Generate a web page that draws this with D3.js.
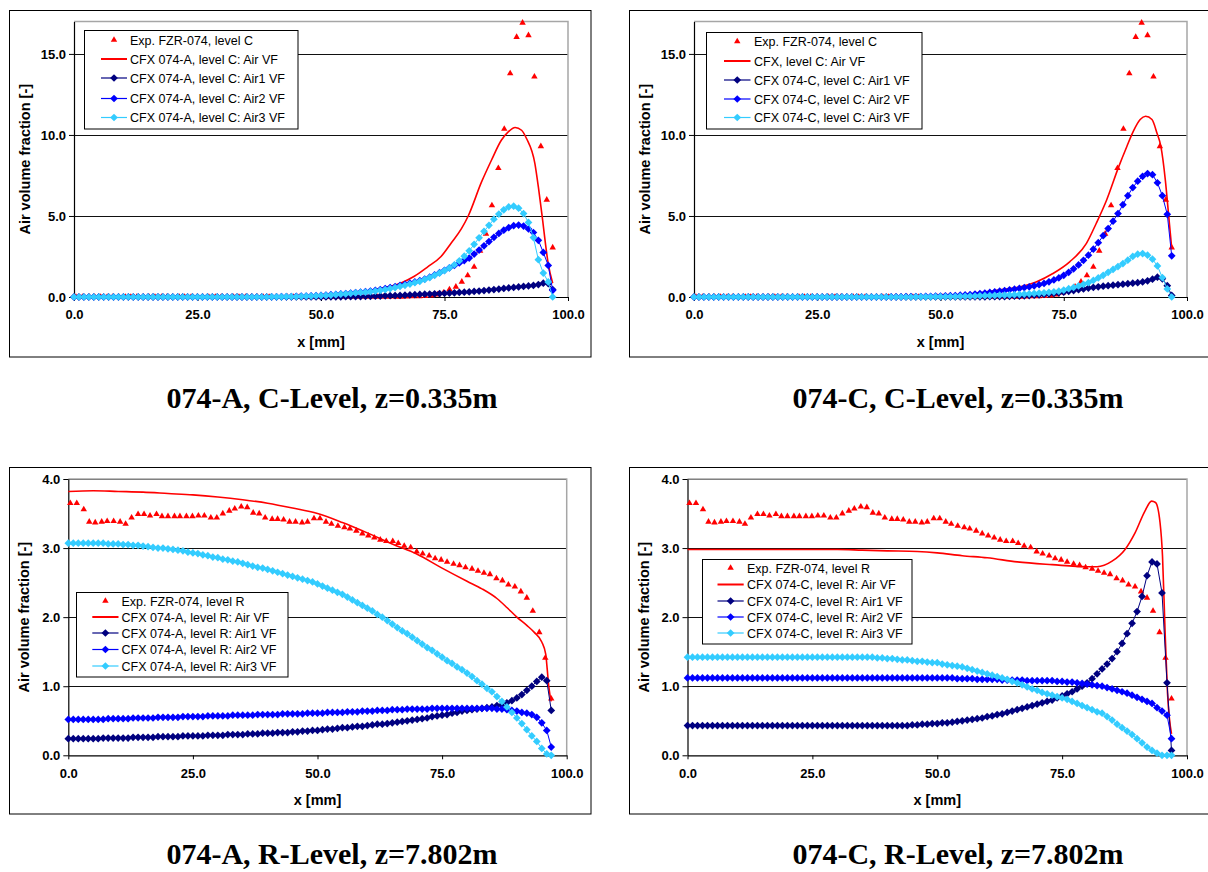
<!DOCTYPE html>
<html>
<head>
<meta charset="utf-8">
<script src="https://cdn.jsdelivr.net/npm/d3@7"></script>
<style>
  html, body { margin: 0; padding: 0; background: #ffffff; }
  svg { display: block; }
</style>
</head>
<body>
<svg id="fig" width="1208" height="872"></svg>
<script>
// ---------------------------------------------------------------------------
// Data: air volume fraction profiles across the pipe, x in mm
// ---------------------------------------------------------------------------

// Measurement positions (FZR-074 wire-mesh sensor)
const expX = [
  0.4, 1.7, 3.1, 4.2, 5.4, 6.7, 7.8, 9.1, 10.4, 11.5,
  12.7, 14.0, 15.2, 16.4, 17.7, 18.8, 20.0, 21.3, 22.4, 23.7,
  24.9, 26.1, 27.3, 28.6, 29.8, 31.0, 32.3, 33.4, 34.7, 35.9,
  37.1, 38.3, 39.5, 40.9, 42.0, 43.2, 44.4, 45.6, 46.9, 48.0,
  49.3, 50.5, 51.7, 52.8, 54.1, 55.4, 56.5, 57.8, 59.0, 60.2,
  61.4, 62.6, 63.8, 65.1, 66.2, 67.4, 68.7, 69.9, 71.1, 72.4,
  73.6, 74.8, 76.0, 77.3, 78.5, 79.7, 81.0, 82.2, 83.4, 84.6,
  85.9, 87.1, 88.3, 89.6, 90.8, 92.0, 93.2, 94.5, 95.7, 96.9
];

// Exp. FZR-074, level C
const expLevelC = [
  0, 0, 0, 0, 0, 0, 0, 0, 0, 0,
  0, 0, 0, 0, 0, 0, 0, 0, 0, 0,
  0, 0, 0, 0, 0, 0, 0, 0, 0, 0,
  0, 0, 0, 0, 0, 0, 0, 0, 0, 0,
  0, 0, 0, 0, 0, 0, 0, 0, 0, 0,
  0, 0, 0, 0, 0, 0.02, 0.03, 0.04, 0.06, 0.09,
  0.15, 0.27, 0.47, 0.63, 0.94, 1.33, 1.86, 2.85, 3.90, 5.65,
  7.95, 10.37, 13.80, 16.04, 16.92, 16.15, 13.60, 9.30, 6.00, 3.05
];

// Exp. FZR-074, level R
const expLevelR = [
  3.65, 3.65, 3.56, 3.38, 3.37, 3.38, 3.39, 3.39, 3.38, 3.35,
  3.44, 3.49, 3.49, 3.47, 3.49, 3.46, 3.46, 3.46, 3.46, 3.46,
  3.46, 3.47, 3.47, 3.44, 3.44, 3.50, 3.54, 3.57, 3.60, 3.59,
  3.51, 3.50, 3.44, 3.42, 3.42, 3.41, 3.38, 3.38, 3.37, 3.38,
  3.43, 3.43, 3.38, 3.35, 3.32, 3.30, 3.28, 3.25, 3.21, 3.18,
  3.15, 3.12, 3.10, 3.10, 3.07, 3.03, 3.01, 2.95, 2.92, 2.89,
  2.85, 2.83, 2.80, 2.77, 2.75, 2.72, 2.70, 2.67, 2.64, 2.62,
  2.56, 2.53, 2.47, 2.44, 2.37, 2.28, 2.09, 1.78, 1.41, 0.82
];

// CFX mesh positions used for the Air1/Air2/Air3 profiles
const cfxX = [
  0, 1, 2, 3, 4, 5, 6, 7, 8, 9,
  10, 11, 12, 13, 14, 15, 16, 17, 18, 19,
  20, 21, 22, 23, 24, 25, 26, 27, 28, 29,
  30, 31, 32, 33, 34, 35, 36, 37, 38, 39,
  40, 41, 42, 43, 44, 45, 46, 47, 48, 49,
  50, 51, 52, 53, 54, 55, 56, 57, 58, 59,
  60, 61, 62, 63, 64, 65, 66, 67, 68, 69,
  70, 71, 72, 73, 74, 75, 76, 77, 78, 79,
  80, 81, 82, 83, 84, 85, 86, 87, 88, 89,
  90, 91, 92, 93, 94, 95, 96, 96.9
];

// --- 074-A, level C ---
const airVfAC_x = [0, 20, 40, 46, 52.7, 59.5, 62.9, 66.2, 68.9, 71.6, 74.3, 76.4, 78.4, 79.8, 82.5, 84.5, 86.5, 87.9, 89.3, 90.6, 91.6, 93.3, 94.0, 94.7, 96.0, 96.9];
const airVfAC   = [0, 0, 0.01, 0.04, 0.15, 0.37, 0.58, 0.87, 1.28, 1.86, 2.50, 3.35, 4.20, 5.00, 7.10, 8.44, 9.67, 10.19, 10.46, 10.29, 9.78, 8.23, 6.79, 5.14, 2.05, 0.85];
const air1AC = [
  0, 0, 0, 0, 0, 0, 0, 0, 0, 0,
  0, 0, 0, 0, 0, 0, 0, 0, 0, 0,
  0, 0, 0, 0, 0, 0, 0, 0, 0, 0,
  0, 0, 0, 0, 0, 0, 0, 0, 0, 0,
  0, 0, 0, 0, 0, 0, 0, 0, 0, 0,
  0, 0, 0.01, 0.01, 0.01, 0.02, 0.02, 0.03, 0.03, 0.04,
  0.04, 0.05, 0.06, 0.07, 0.08, 0.09, 0.10, 0.11, 0.13, 0.14,
  0.16, 0.17, 0.18, 0.20, 0.21, 0.23, 0.24, 0.26, 0.28, 0.30,
  0.31, 0.34, 0.37, 0.40, 0.43, 0.46, 0.49, 0.53, 0.56, 0.59,
  0.62, 0.65, 0.68, 0.71, 0.77, 0.85, 0.83, 0.46
];
const air2AC = [
  0, 0, 0, 0, 0, 0, 0, 0, 0, 0,
  0, 0, 0, 0, 0, 0, 0, 0, 0, 0,
  0, 0, 0, 0, 0, 0, 0, 0, 0, 0,
  0, 0, 0, 0, 0, 0, 0, 0, 0, 0,
  0.01, 0.01, 0.02, 0.02, 0.03, 0.04, 0.05, 0.06, 0.07, 0.08,
  0.10, 0.12, 0.14, 0.16, 0.19, 0.21, 0.24, 0.27, 0.30, 0.33,
  0.37, 0.41, 0.46, 0.52, 0.58, 0.64, 0.71, 0.78, 0.85, 0.93,
  1.01, 1.11, 1.22, 1.36, 1.50, 1.65, 1.80, 1.95, 2.10, 2.25,
  2.40, 2.65, 2.90, 3.16, 3.42, 3.68, 3.92, 4.12, 4.28, 4.40,
  4.44, 4.38, 4.20, 3.98, 3.50, 2.75, 1.95, 0.41
];
const air3AC = [
  0, 0, 0, 0, 0, 0, 0, 0, 0, 0,
  0, 0, 0, 0, 0, 0, 0, 0, 0, 0,
  0, 0, 0, 0, 0, 0, 0, 0, 0, 0,
  0, 0, 0, 0, 0, 0, 0, 0, 0, 0,
  0.01, 0.01, 0.01, 0.02, 0.02, 0.03, 0.04, 0.05, 0.06, 0.07,
  0.09, 0.10, 0.12, 0.14, 0.17, 0.19, 0.22, 0.25, 0.28, 0.30,
  0.33, 0.37, 0.41, 0.46, 0.52, 0.58, 0.65, 0.72, 0.80, 0.88,
  0.97, 1.08, 1.20, 1.34, 1.48, 1.63, 1.79, 1.99, 2.23, 2.52,
  2.85, 3.25, 3.65, 4.05, 4.42, 4.80, 5.12, 5.38, 5.56, 5.60,
  5.48, 5.15, 4.60, 3.67, 2.30, 1.48, 0.93, 0.00
];

// --- 074-C, level C ---
const airVfCC_x = [0, 20, 40, 50, 55, 59.2, 62.5, 66, 69.4, 72.8, 76.2, 79.6, 81.6, 83.7, 86.1, 87.8, 89.1, 90.5, 91.6, 92.9, 93.9, 94.7, 95.6, 96.3, 96.9];
const airVfCC   = [0, 0, 0.01, 0.05, 0.15, 0.31, 0.46, 0.62, 0.93, 1.45, 2.17, 3.31, 4.55, 5.99, 8.00, 9.29, 10.22, 10.95, 11.15, 10.95, 10.12, 9.29, 7.23, 4.96, 3.00];
const air1CC = [
  0, 0, 0, 0, 0, 0, 0, 0, 0, 0,
  0, 0, 0, 0, 0, 0, 0, 0, 0, 0,
  0, 0, 0, 0, 0, 0, 0, 0, 0, 0,
  0, 0, 0, 0, 0, 0, 0, 0, 0, 0,
  0, 0, 0, 0, 0, 0, 0, 0, 0, 0,
  0, 0, 0, 0, 0, 0, 0, 0.01, 0.01, 0.01,
  0.02, 0.02, 0.03, 0.03, 0.04, 0.05, 0.06, 0.07, 0.09, 0.11,
  0.13, 0.16, 0.19, 0.22, 0.26, 0.30, 0.35, 0.40, 0.45, 0.50,
  0.55, 0.59, 0.63, 0.67, 0.70, 0.73, 0.76, 0.79, 0.82, 0.85,
  0.88, 0.93, 1.00, 1.10, 1.22, 1.12, 0.70, 0.10
];
const air2CC = [
  0, 0, 0, 0, 0, 0, 0, 0, 0, 0,
  0, 0, 0, 0, 0, 0, 0, 0, 0, 0,
  0, 0, 0, 0, 0, 0, 0, 0, 0, 0,
  0, 0, 0, 0, 0, 0, 0, 0, 0, 0,
  0.01, 0.01, 0.01, 0.02, 0.02, 0.03, 0.03, 0.04, 0.04, 0.05,
  0.06, 0.07, 0.08, 0.09, 0.11, 0.13, 0.15, 0.18, 0.21, 0.24,
  0.28, 0.32, 0.36, 0.40, 0.44, 0.48, 0.53, 0.58, 0.63, 0.69,
  0.76, 0.84, 0.94, 1.05, 1.18, 1.34, 1.52, 1.74, 1.98, 2.26,
  2.58, 2.95, 3.35, 3.78, 4.22, 4.68, 5.15, 5.70, 6.25, 6.75,
  7.15, 7.45, 7.62, 7.55, 7.05, 6.25, 5.10, 2.54
];
const air3CC = [
  0, 0, 0, 0, 0, 0, 0, 0, 0, 0,
  0, 0, 0, 0, 0, 0, 0, 0, 0, 0,
  0, 0, 0, 0, 0, 0, 0, 0, 0, 0,
  0, 0, 0, 0, 0, 0, 0, 0, 0, 0,
  0, 0, 0, 0, 0, 0.01, 0.01, 0.01, 0.01, 0.02,
  0.02, 0.02, 0.03, 0.03, 0.04, 0.04, 0.05, 0.06, 0.07, 0.08,
  0.09, 0.10, 0.11, 0.12, 0.13, 0.14, 0.16, 0.18, 0.20, 0.22,
  0.24, 0.26, 0.29, 0.32, 0.36, 0.43, 0.51, 0.59, 0.68, 0.78,
  0.88, 1.02, 1.18, 1.34, 1.52, 1.70, 1.88, 2.06, 2.27, 2.50,
  2.64, 2.68, 2.58, 2.33, 1.92, 1.20, 0.50, 0.00
];

// --- 074-A, level R ---
const airVfAR_x = [0, 5, 10, 15, 20, 25, 30, 35, 40, 45, 50, 55, 60, 65, 70, 75, 80, 83, 86, 88, 90, 92, 93.5, 95, 95.8, 96.1, 96.4, 96.9];
const airVfAR   = [3.82, 3.83, 3.82, 3.81, 3.79, 3.77, 3.74, 3.70, 3.65, 3.58, 3.50, 3.37, 3.22, 3.06, 2.91, 2.71, 2.52, 2.41, 2.27, 2.14, 2.00, 1.88, 1.78, 1.64, 1.46, 1.24, 1.00, 0.78];
const air1AR = [
  0.24, 0.24, 0.24, 0.24, 0.24, 0.24, 0.24, 0.25, 0.25, 0.25,
  0.25, 0.25, 0.25, 0.26, 0.26, 0.26, 0.26, 0.26, 0.27, 0.27,
  0.27, 0.27, 0.27, 0.28, 0.28, 0.28, 0.28, 0.28, 0.29, 0.29,
  0.29, 0.29, 0.30, 0.30, 0.30, 0.30, 0.31, 0.31, 0.31, 0.32,
  0.32, 0.32, 0.33, 0.33, 0.33, 0.34, 0.34, 0.35, 0.35, 0.36,
  0.36, 0.37, 0.38, 0.38, 0.39, 0.40, 0.40, 0.41, 0.42, 0.42,
  0.43, 0.44, 0.45, 0.45, 0.46, 0.47, 0.48, 0.49, 0.50, 0.51,
  0.52, 0.53, 0.54, 0.56, 0.57, 0.58, 0.59, 0.61, 0.62, 0.64,
  0.65, 0.66, 0.67, 0.68, 0.69, 0.70, 0.72, 0.73, 0.76, 0.79,
  0.83, 0.88, 0.94, 1.00, 1.07, 1.13, 1.08, 0.65
];
const air2AR = [
  0.52, 0.52, 0.52, 0.52, 0.52, 0.52, 0.52, 0.52, 0.53, 0.53,
  0.53, 0.53, 0.53, 0.54, 0.54, 0.54, 0.54, 0.54, 0.55, 0.55,
  0.55, 0.55, 0.55, 0.56, 0.56, 0.56, 0.56, 0.56, 0.57, 0.57,
  0.57, 0.57, 0.57, 0.58, 0.58, 0.58, 0.58, 0.58, 0.59, 0.59,
  0.59, 0.59, 0.59, 0.60, 0.60, 0.60, 0.60, 0.60, 0.61, 0.61,
  0.61, 0.61, 0.62, 0.62, 0.62, 0.62, 0.63, 0.63, 0.63, 0.64,
  0.64, 0.64, 0.65, 0.65, 0.65, 0.66, 0.66, 0.66, 0.67, 0.67,
  0.67, 0.67, 0.67, 0.68, 0.68, 0.68, 0.68, 0.68, 0.68, 0.68,
  0.68, 0.68, 0.68, 0.68, 0.68, 0.68, 0.67, 0.67, 0.66, 0.65,
  0.64, 0.62, 0.61, 0.59, 0.55, 0.47, 0.36, 0.12
];
const air3AR = [
  3.07, 3.07, 3.07, 3.07, 3.07, 3.07, 3.07, 3.07, 3.06, 3.06,
  3.06, 3.05, 3.05, 3.04, 3.04, 3.03, 3.02, 3.01, 3.00, 3.00,
  2.99, 2.98, 2.97, 2.96, 2.94, 2.93, 2.92, 2.90, 2.89, 2.87,
  2.86, 2.84, 2.83, 2.81, 2.80, 2.78, 2.76, 2.74, 2.72, 2.71,
  2.69, 2.67, 2.65, 2.63, 2.61, 2.59, 2.57, 2.55, 2.53, 2.51,
  2.48, 2.45, 2.42, 2.39, 2.36, 2.33, 2.29, 2.25, 2.21, 2.17,
  2.13, 2.09, 2.04, 2.00, 1.95, 1.90, 1.85, 1.80, 1.76, 1.71,
  1.66, 1.61, 1.56, 1.52, 1.47, 1.42, 1.37, 1.33, 1.28, 1.24,
  1.19, 1.14, 1.08, 1.03, 0.97, 0.92, 0.85, 0.78, 0.70, 0.62,
  0.54, 0.46, 0.37, 0.28, 0.20, 0.10, 0.02, 0.00
];

// --- 074-C, level R ---
const airVfCR_x = [0, 10, 20, 30, 35, 40, 46, 50, 55, 60, 66, 73, 80, 82, 85, 87.6, 89.6, 91.6, 92.9, 93.7, 94.6, 95.1, 95.6, 96.1, 96.9];
const airVfCR   = [2.98, 2.98, 2.98, 2.98, 2.97, 2.96, 2.95, 2.93, 2.89, 2.86, 2.80, 2.76, 2.73, 2.73, 2.81, 2.98, 3.22, 3.54, 3.68, 3.66, 3.37, 2.88, 1.82, 0.90, 0.31];
const air1CR = [
  0.43, 0.43, 0.43, 0.43, 0.43, 0.43, 0.43, 0.43, 0.43, 0.43,
  0.43, 0.43, 0.43, 0.43, 0.43, 0.43, 0.43, 0.43, 0.43, 0.43,
  0.43, 0.43, 0.43, 0.43, 0.43, 0.43, 0.43, 0.43, 0.43, 0.43,
  0.43, 0.43, 0.43, 0.43, 0.43, 0.43, 0.43, 0.43, 0.43, 0.43,
  0.43, 0.43, 0.43, 0.43, 0.43, 0.44, 0.44, 0.45, 0.45, 0.46,
  0.46, 0.47, 0.47, 0.48, 0.49, 0.50, 0.51, 0.52, 0.53, 0.54,
  0.56, 0.57, 0.59, 0.60, 0.62, 0.64, 0.66, 0.68, 0.70, 0.72,
  0.74, 0.76, 0.78, 0.80, 0.83, 0.86, 0.89, 0.92, 0.96, 1.00,
  1.05, 1.11, 1.18, 1.25, 1.32, 1.40, 1.50, 1.62, 1.76, 1.91,
  2.08, 2.30, 2.60, 2.80, 2.77, 2.35, 1.05, 0.07
];
const air2CR = [
  1.12, 1.12, 1.12, 1.12, 1.12, 1.12, 1.12, 1.12, 1.12, 1.12,
  1.12, 1.12, 1.12, 1.12, 1.12, 1.12, 1.12, 1.12, 1.12, 1.12,
  1.12, 1.12, 1.12, 1.12, 1.12, 1.12, 1.12, 1.12, 1.12, 1.12,
  1.12, 1.12, 1.12, 1.12, 1.12, 1.12, 1.12, 1.12, 1.12, 1.12,
  1.12, 1.12, 1.12, 1.12, 1.12, 1.12, 1.12, 1.12, 1.12, 1.12,
  1.12, 1.12, 1.12, 1.12, 1.11, 1.11, 1.11, 1.11, 1.10, 1.10,
  1.10, 1.10, 1.10, 1.09, 1.09, 1.09, 1.09, 1.09, 1.08, 1.08,
  1.08, 1.08, 1.08, 1.08, 1.07, 1.07, 1.06, 1.06, 1.05, 1.04,
  1.03, 1.02, 1.01, 1.00, 0.98, 0.96, 0.94, 0.92, 0.90, 0.87,
  0.84, 0.81, 0.78, 0.75, 0.69, 0.64, 0.58, 0.24
];
const air3CR = [
  1.42, 1.42, 1.42, 1.42, 1.42, 1.42, 1.42, 1.42, 1.42, 1.42,
  1.42, 1.42, 1.42, 1.42, 1.42, 1.42, 1.42, 1.42, 1.42, 1.42,
  1.42, 1.42, 1.42, 1.42, 1.42, 1.42, 1.42, 1.42, 1.42, 1.42,
  1.42, 1.42, 1.42, 1.42, 1.42, 1.42, 1.42, 1.42, 1.41, 1.41,
  1.40, 1.40, 1.39, 1.38, 1.38, 1.37, 1.36, 1.36, 1.35, 1.34,
  1.34, 1.32, 1.31, 1.30, 1.29, 1.28, 1.26, 1.24, 1.22, 1.20,
  1.18, 1.16, 1.14, 1.12, 1.10, 1.07, 1.05, 1.02, 0.99, 0.96,
  0.94, 0.91, 0.89, 0.87, 0.85, 0.83, 0.81, 0.78, 0.75, 0.72,
  0.69, 0.66, 0.63, 0.61, 0.56, 0.51, 0.45, 0.40, 0.35, 0.30,
  0.24, 0.18, 0.12, 0.07, 0.03, 0.00, 0.00, 0.00
];

// Axis tick values
const xTickValues = [0, 25, 50, 75, 100];
const yTicksLevelC = [0, 5, 10, 15];
const yTicksLevelR = [0, 1, 2, 3, 4];

// Legend labels
const legendAC = ["Exp. FZR-074, level C", "CFX 074-A, level C: Air VF", "CFX 074-A, level C: Air1 VF", "CFX 074-A, level C: Air2 VF", "CFX 074-A, level C: Air3 VF"];
const legendCC = ["Exp. FZR-074, level C", "CFX, level C: Air VF", "CFX 074-C, level C: Air1 VF", "CFX 074-C, level C: Air2 VF", "CFX 074-C, level C: Air3 VF"];
const legendAR = ["Exp. FZR-074, level R", "CFX 074-A, level R: Air VF", "CFX 074-A, level R: Air1 VF", "CFX 074-A, level R: Air2 VF", "CFX 074-A, level R: Air3 VF"];
const legendCR = ["Exp. FZR-074, level R", "CFX 074-C, level R: Air VF", "CFX 074-C, level R: Air1 VF", "CFX 074-C, level R: Air2 VF", "CFX 074-C, level R: Air3 VF"];

const captions = ["074-A, C-Level, z=0.335m", "074-C, C-Level, z=0.335m", "074-A, R-Level, z=7.802m", "074-C, R-Level, z=7.802m"];

// ---------------------------------------------------------------------------
// Styling
// ---------------------------------------------------------------------------
const SANS = '"Liberation Sans", Arial, Helvetica, sans-serif';
const SERIF = '"Liberation Serif", "Times New Roman", Times, serif';
const COLORS = { exp: "#ff0000", air: "#ff0000", air1: "#000080", air2: "#0000ff", air3: "#33ccff" };

// Square diamond marker (equal width and height)
const squareDiamond = {
  draw(ctx, size) {
    const r = Math.sqrt(size / 2);
    ctx.moveTo(0, -r); ctx.lineTo(r, 0); ctx.lineTo(0, r); ctx.lineTo(-r, 0); ctx.closePath();
  }
};
const diamondPath = d3.symbol().type(squareDiamond).size(30)();
const trianglePath = d3.symbol().type(d3.symbolTriangle).size(18)();

// Panel layout
const panels = [
  {
    frame: [9.5, 10.5, 581.5, 346.5], x0: 74, x1: 568, yBot: 297, yTop: 21.5, yMax: 17, yTicks: yTicksLevelC,
    yTitleX: 25, xTitleY: 347, xTickPad: 9,
    legend: { box: [84.5, 30.5, 213.5, 98.5], rows: [40, 59, 78, 98.5, 117.5], sym: [101, 127], text: 130 },
    caption: captions[0], capX: 332, capY: 408,
    exp: expLevelC, airX: airVfAC_x, air: airVfAC, a1: air1AC, a2: air2AC, a3: air3AC, labels: legendAC
  },
  {
    frame: [629.5, 10.5, 600, 346.5], x0: 694, x1: 1187, yBot: 297, yTop: 21.5, yMax: 17, yTicks: yTicksLevelC,
    yTitleX: 644.5, xTitleY: 347, xTickPad: 9,
    legend: { box: [706.5, 32.5, 215.5, 96.5], rows: [41.5, 61, 80, 99, 117.5], sym: [724, 750.5], text: 754 },
    caption: captions[1], capX: 958, capY: 408,
    exp: expLevelC, airX: airVfCC_x, air: airVfCC, a1: air1CC, a2: air2CC, a3: air3CC, labels: legendCC
  },
  {
    frame: [9.5, 467.5, 581.5, 346.5], x0: 68.3, x1: 566.7, yBot: 755.3, yTop: 479, yMax: 4, yTicks: yTicksLevelR,
    yTitleX: 23.5, xTitleY: 805, xTickPad: 9,
    legend: { box: [76.5, 592.5, 211.5, 84.5], rows: [601, 617, 633, 649.5, 666], sym: [92.3, 118.5], text: 121.5 },
    caption: captions[2], capX: 332, capY: 864,
    exp: expLevelR, airX: airVfAR_x, air: airVfAR, a1: air1AR, a2: air2AR, a3: air3AR, labels: legendAR
  },
  {
    frame: [629.5, 467.5, 600, 346.5], x0: 687.5, x1: 1187, yBot: 755.3, yTop: 479, yMax: 4, yTicks: yTicksLevelR,
    yTitleX: 644, xTitleY: 805, xTickPad: 9,
    legend: { box: [702.5, 559.5, 209.5, 84.5], rows: [568, 584.5, 601, 617, 633], sym: [717.5, 743.7], text: 747 },
    caption: captions[3], capX: 958, capY: 864,
    exp: expLevelR, airX: airVfCR_x, air: airVfCR, a1: air1CR, a2: air2CR, a3: air3CR, labels: legendCR
  }
];

const svg = d3.select("#fig");

panels.forEach(p => {
  const g = svg.append("g");
  const x = d3.scaleLinear().domain([0, 100]).range([p.x0, p.x1]);
  const y = d3.scaleLinear().domain([0, p.yMax]).range([p.yBot, p.yTop]);

  // chart frame
  g.append("rect")
    .attr("x", p.frame[0]).attr("y", p.frame[1])
    .attr("width", p.frame[2]).attr("height", p.frame[3])
    .attr("fill", "#fff").attr("stroke", "#000").attr("stroke-width", 1);

  // horizontal gridlines
  g.append("g").selectAll("line")
    .data(p.yTicks.filter(v => v > 0))
    .join("line")
    .attr("x1", p.x0).attr("x2", p.x1)
    .attr("y1", d => Math.round(y(d)) + 0.5).attr("y2", d => Math.round(y(d)) + 0.5)
    .attr("stroke", "#111").attr("stroke-width", 1);

  // plot-area border (top and right)
  g.append("path")
    .attr("d", `M${p.x0},${p.yTop}H${p.x1}V${p.yBot}`)
    .attr("fill", "none").attr("stroke", "#a6a6a6").attr("stroke-width", 1.5);

  // axes
  const yAxis = g.append("g")
    .attr("transform", `translate(${p.x0},0)`)
    .call(d3.axisLeft(y).tickValues(p.yTicks).tickFormat(d3.format(".1f")).tickSize(5).tickPadding(3).tickSizeOuter(0));
  const xAxis = g.append("g")
    .attr("transform", `translate(0,${p.yBot})`)
    .call(d3.axisBottom(x).tickValues(xTickValues).tickFormat(d3.format(".1f")).tickSize(4).tickPadding(p.xTickPad).tickSizeOuter(0));
  [yAxis, xAxis].forEach(a => {
    a.select(".domain").attr("stroke", "#000").attr("stroke-width", 1.2);
    a.selectAll(".tick line").attr("stroke", "#000");
    a.selectAll(".tick text")
      .attr("font-family", SANS).attr("font-size", 13).attr("font-weight", "bold").attr("fill", "#000");
  });

  // axis titles
  g.append("text")
    .attr("transform", `translate(${p.yTitleX},${(p.yTop + p.yBot) / 2}) rotate(-90)`)
    .attr("text-anchor", "middle").attr("dominant-baseline", "central")
    .attr("font-family", SANS).attr("font-size", 14.5).attr("font-weight", "bold")
    .text("Air volume fraction [-]");
  g.append("text")
    .attr("x", (p.x0 + p.x1) / 2).attr("y", p.xTitleY)
    .attr("text-anchor", "middle")
    .attr("font-family", SANS).attr("font-size", 14.5).attr("font-weight", "bold")
    .text("x [mm]");

  // experimental points (triangles)
  const expPts = expX.map((v, i) => [v, p.exp[i]]);
  g.append("g").selectAll("path")
    .data(expPts).join("path")
    .attr("d", trianglePath)
    .attr("transform", d => `translate(${x(d[0])},${y(d[1])})`)
    .attr("fill", COLORS.exp);

  // CFX total air volume fraction (line only)
  const airPts = p.airX.map((v, i) => [v, p.air[i]]);
  g.append("path")
    .datum(airPts)
    .attr("d", d3.line().x(d => x(d[0])).y(d => y(d[1])).curve(d3.curveMonotoneX))
    .attr("fill", "none").attr("stroke", COLORS.air).attr("stroke-width", 1.6);

  // CFX air group fractions (line + diamond markers)
  [[p.a1, COLORS.air1], [p.a2, COLORS.air2], [p.a3, COLORS.air3]].forEach(([vals, col]) => {
    const pts = cfxX.map((v, i) => [v, vals[i]]);
    g.append("path")
      .datum(pts)
      .attr("d", d3.line().x(d => x(d[0])).y(d => y(d[1])))
      .attr("fill", "none").attr("stroke", col).attr("stroke-width", 1);
    g.append("g").selectAll("path")
      .data(pts).join("path")
      .attr("d", diamondPath)
      .attr("transform", d => `translate(${x(d[0])},${y(d[1])})`)
      .attr("fill", col);
  });

  // legend
  const L = p.legend;
  const lg = g.append("g");
  lg.append("rect")
    .attr("x", L.box[0]).attr("y", L.box[1]).attr("width", L.box[2]).attr("height", L.box[3])
    .attr("fill", "#fff").attr("stroke", "#000").attr("stroke-width", 1);
  const symMid = (L.sym[0] + L.sym[1]) / 2;
  const symColors = [COLORS.exp, COLORS.air, COLORS.air1, COLORS.air2, COLORS.air3];
  p.labels.forEach((lab, i) => {
    const ry = L.rows[i];
    if (i === 0) {
      lg.append("path").attr("d", trianglePath)
        .attr("transform", `translate(${symMid},${ry})`).attr("fill", COLORS.exp);
    } else {
      lg.append("line")
        .attr("x1", L.sym[0]).attr("x2", L.sym[1]).attr("y1", ry).attr("y2", ry)
        .attr("stroke", symColors[i]).attr("stroke-width", i === 1 ? 2 : 1.2);
      if (i > 1) {
        lg.append("path").attr("d", diamondPath)
          .attr("transform", `translate(${symMid},${ry})`).attr("fill", symColors[i]);
      }
    }
    lg.append("text")
      .attr("x", L.text).attr("y", ry).attr("dy", "0.36em")
      .attr("font-family", SANS).attr("font-size", 12.5).attr("fill", "#000")
      .text(lab);
  });

  // caption below the chart
  svg.append("text")
    .attr("x", p.capX).attr("y", p.capY)
    .attr("text-anchor", "middle")
    .attr("font-family", SERIF).attr("font-size", 30).attr("font-weight", "bold")
    .text(p.caption);
});
</script>
</body>
</html>
